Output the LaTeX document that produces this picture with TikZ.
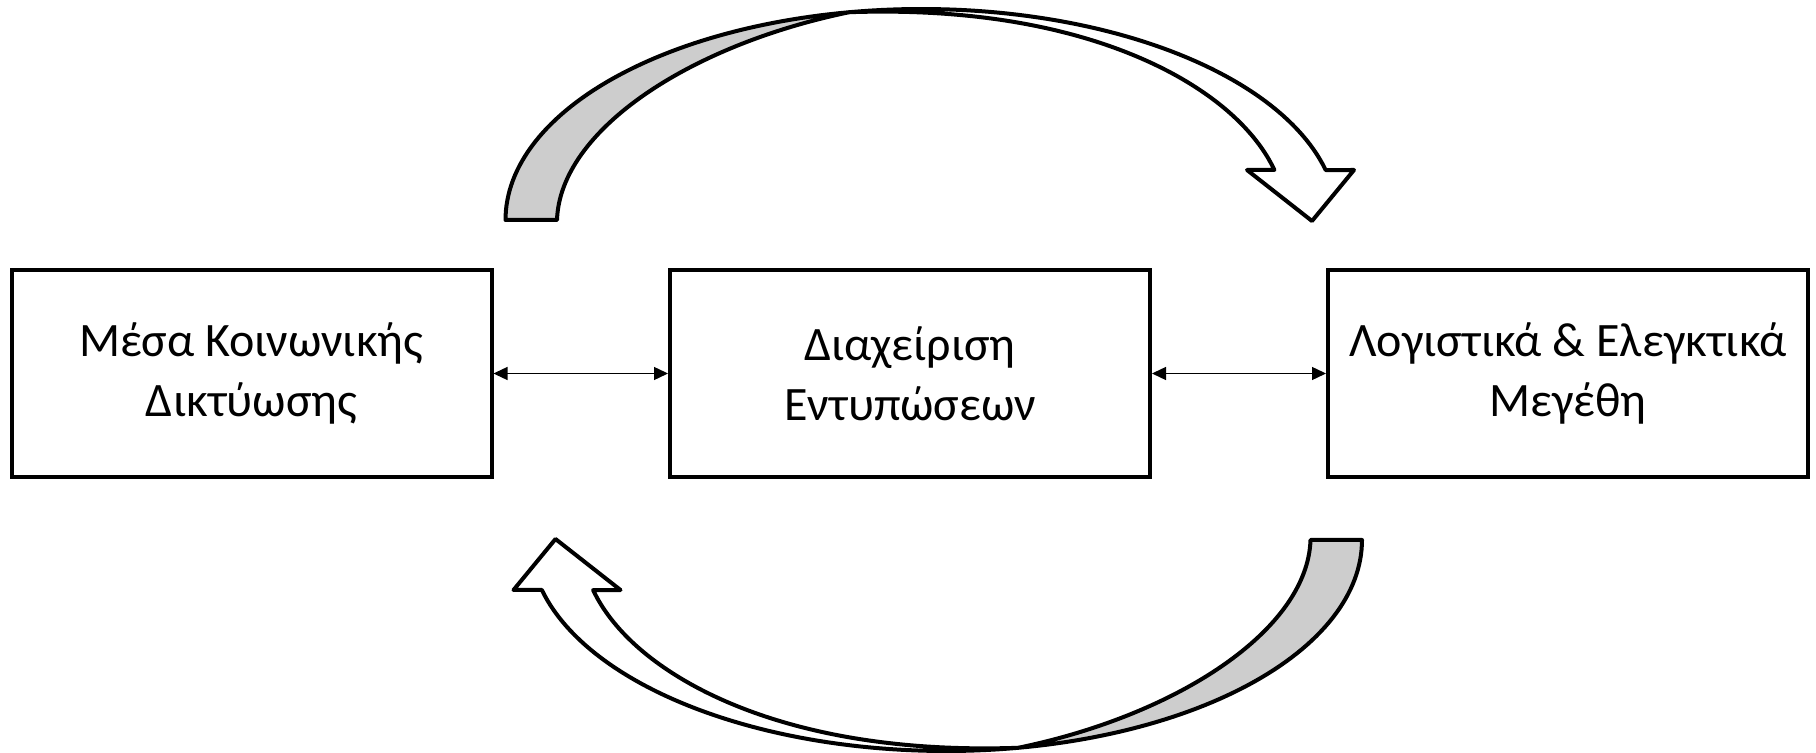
\documentclass[tikz,border=0pt]{standalone}
\usepackage{fontspec}
\setmainfont{Carlito}
\usetikzlibrary{arrows.meta}
\definecolor{arrowgray}{RGB}{205,205,205}
\tikzset{
  box/.style={draw=black, line width=2pt, fill=white, minimum width=240pt, minimum height=103.5pt,
    align=center, inner sep=0pt, font=\fontsize{24}{30}\selectfont},
  link/.style={line width=0.7pt, {Triangle[length=7pt,width=6.5pt]}-{Triangle[length=7pt,width=6.5pt]}},
  bandline/.style={draw=black, line width=2pt, line join=round}
}
\newcommand{\curvedarrow}{%
  \filldraw[bandline, fill=white]
    plot[domain=13.7:100, samples=60] ({921.5+416*cos(\x)},{220-211*sin(\x)})
    -- plot[domain=100:14.5, samples=80]
       ({921.5+(364.5+51.5*((\x-14.5)/85.5)^3)*cos(\x)},{220-(200+11*((\x-14.5)/85.5)^3)*sin(\x)})
    -- (1247,170) -- (1312,221) -- (1354,170) -- cycle;
  \filldraw[bandline, fill=arrowgray]
    plot[domain=180:100, samples=60] ({921.5+416*cos(\x)},{220-211*sin(\x)})
    .. controls (690,45) and (560,130) .. (557,220) -- cycle;
}
\begin{document}
\begin{tikzpicture}[x=0.5pt,y=-0.5pt]
\useasboundingbox (0,0) rectangle (1816,753);
\node[box] (sm) at (251.5,373.5) {Μέσα Κοινωνικής\\Δικτύωσης};
\node[box] (im) at (910,373.5) {Διαχείριση\\Εντυπώσεων};
\node[box] (ac) at (1568,373.5) {Λογιστικά \& Ελεγκτικά\\Μεγέθη};
\draw[link] (sm.east) -- (im.west);
\draw[link] (im.east) -- (ac.west);
\curvedarrow
\begin{scope}[rotate around={180:(933.75,380)}]
\curvedarrow
\end{scope}
\end{tikzpicture}
\end{document}
